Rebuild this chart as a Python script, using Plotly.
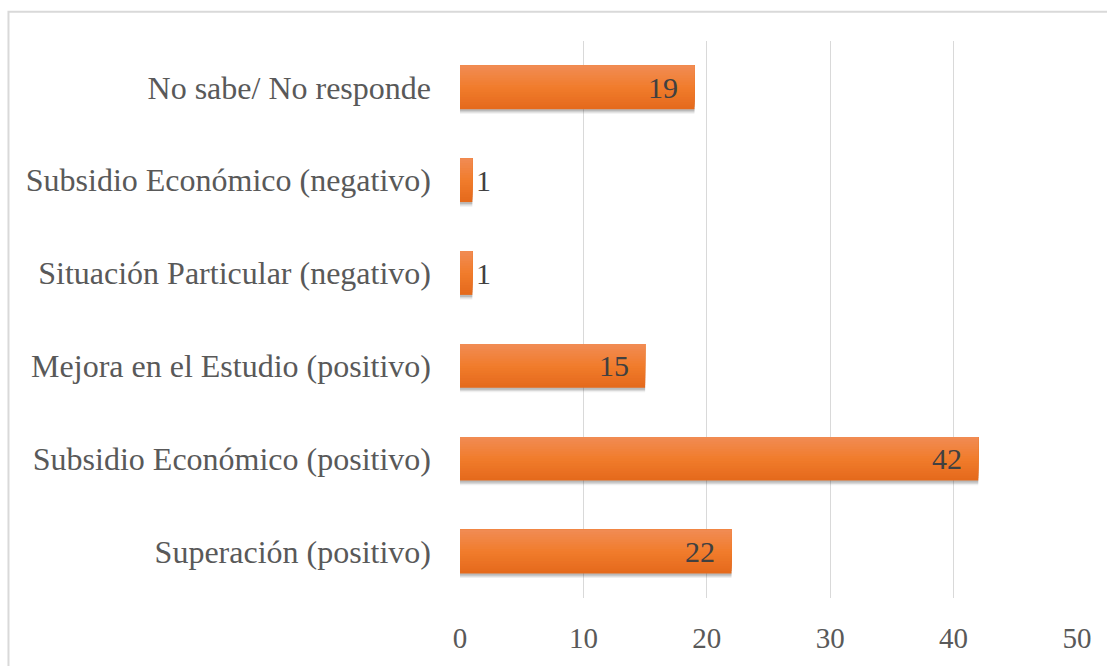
import plotly.graph_objects as go

# Categories (bottom to top) and response counts
categorias = [
    "Superación (positivo)",
    "Subsidio Económico (positivo)",
    "Mejora en el Estudio (positivo)",
    "Situación Particular (negativo)",
    "Subsidio Económico (negativo)",
    "No sabe/ No responde",
]
valores = [22, 42, 15, 1, 1, 19]
ticks_x = [0, 10, 20, 30, 40, 50]

FONT = "Liberation Serif"
BAR_W = 0.47
N_STRIPES = 18
# gradient stops, bottom -> middle -> top
GRAD = [(229, 106, 28), (241, 124, 44), (241, 139, 82)]

def shade(t):
    if t <= 0.5:
        a, b, u = GRAD[0], GRAD[1], t / 0.5
    else:
        a, b, u = GRAD[1], GRAD[2], (t - 0.5) / 0.5
    return tuple(round(a[k] + (b[k] - a[k]) * u) for k in range(3))

fig = go.Figure()

# soft drop shadow beneath each bar
for dy, a in [(0.05, 0.08), (0.036, 0.12), (0.022, 0.18)]:
    fig.add_trace(go.Bar(
        y=categorias, x=valores, orientation="h",
        width=BAR_W, offset=-BAR_W / 2 - dy,
        marker=dict(color=f"rgba(50,50,50,{a})", line=dict(width=0)),
        hoverinfo="skip", showlegend=False,
    ))

# bar body: layered bars, each covering from its start up to the top edge,
# so the colours step smoothly from the bottom shade to the top shade
stripe = BAR_W / N_STRIPES
for i in range(N_STRIPES):
    r, g, b = shade(i / (N_STRIPES - 1))
    fig.add_trace(go.Bar(
        y=categorias, x=valores, orientation="h",
        width=BAR_W - i * stripe, offset=-BAR_W / 2 + i * stripe,
        marker=dict(color=f"rgb({r},{g},{b})", line=dict(width=0)),
        hoverinfo="skip", showlegend=False,
    ))

# value labels: inside the bar end, or just outside for short bars
for cat, v in zip(categorias, valores):
    inside = v >= 5
    fig.add_annotation(
        x=v, y=cat, text=str(v), showarrow=False,
        xanchor="right" if inside else "left",
        xshift=-14 if inside else 2,
        font=dict(family=FONT, size=30, color="#404040"),
    )

# light frame around the chart area
fig.add_shape(
    type="rect", xref="paper", yref="paper",
    x0=-0.7318, x1=2.0, y0=-1.0, y1=1.0526,
    line=dict(color="#D9D9D9", width=2), fillcolor="rgba(0,0,0,0)",
    layer="below",
)

fig.update_layout(
    width=1107, height=666,
    margin=dict(l=460, r=30, t=41, b=64),
    paper_bgcolor="white", plot_bgcolor="white",
    barmode="overlay",
    font=dict(family=FONT, color="#595959"),
    xaxis=dict(
        range=[0, 50], tickvals=ticks_x, showgrid=True,
        gridcolor="#D9D9D9", gridwidth=1, zeroline=False,
        showline=False, ticks="", ticklabelstandoff=20,
        tickfont=dict(family=FONT, size=29, color="#595959"),
    ),
    yaxis=dict(
        categoryorder="array", categoryarray=categorias,
        range=[-0.5, 5.5], showgrid=False, zeroline=False,
        showline=False, ticks="", ticklabelstandoff=28,
        tickfont=dict(family=FONT, size=32, color="#595959"),
    ),
)

fig.write_html("out.html")
